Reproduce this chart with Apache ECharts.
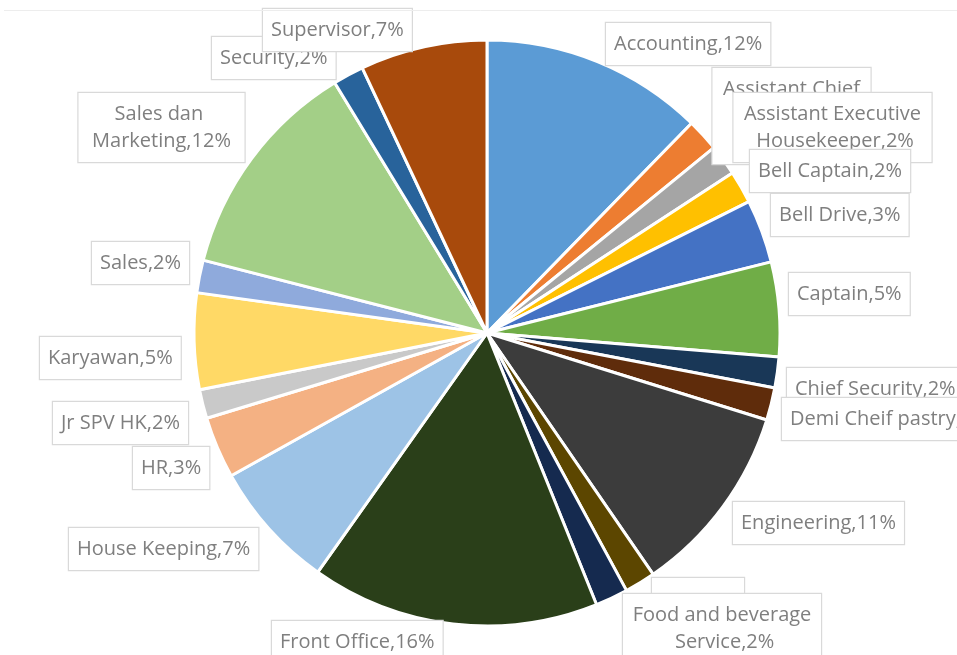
<!DOCTYPE html>
<html>
<head>
<meta charset="utf-8">
<script src="https://cdn.jsdelivr.net/npm/echarts@6/dist/echarts.min.js"></script>
<style>
html,body{margin:0;padding:0;background:#fff;}
#chart{width:957px;height:655px;}
</style>
</head>
<body>
<div id="chart"></div>
<script>
// ---- data ----
var categories = [
  'Accounting', 'Assistant Chief Accounting', 'Assistant Executive Housekeeper', 'Bell Captain',
  'Bell Drive', 'Captain', 'Chief Security', 'Demi Cheif pastry', 'Engineering',
  'Food and beverage', 'Food and beverage Service', 'Front Office', 'House Keeping', 'HR',
  'Jr SPV HK', 'Karyawan', 'Sales', 'Sales dan Marketing', 'Security', 'Supervisor'
];
var values = [12.3, 1.8, 1.7, 1.8, 3.5, 5.2, 1.7, 1.8, 10.6, 1.7, 1.8, 15.9, 7.1, 3.4, 1.6, 5.3, 1.8, 12.3, 1.7, 7.0];
var percentLabels = [12, 2, 2, 2, 3, 5, 2, 2, 11, 2, 2, 16, 7, 3, 2, 5, 2, 12, 2, 7];

// ---- styles / layout (not data) ----
var colors = ['#5B9BD5', '#ED7D31', '#A5A5A5', '#FFC000', '#4472C4', '#70AD47', '#193757', '#5F2C0B',
  '#3C3C3C', '#5C4600', '#152A4F', '#2A3F19', '#9DC3E6', '#F4B183', '#C9C9C9', '#FFD966',
  '#8FAADC', '#A3CF87', '#28639B', '#A84A0C'];
// label box anchor: [x, top, align, wrapWidth, topPadding]
var labelPos = [
  [606, 23, 'left', 0, 8],
  [791.5, 68, 'center', 142, 8],
  [832.5, 93, 'center', 182, 8],
  [750, 150, 'left', 0, 8],
  [771, 194, 'left', 0, 8],
  [789, 273, 'left', 0, 8],
  [787, 368, 'left', 0, 8],
  [782, 398, 'left', 0, 8],
  [733, 502, 'left', 0, 8],
  [698, 578, 'center', 76, 14],
  [722, 594, 'center', 182, 8],
  [272, 621, 'left', 0, 8],
  [69, 528, 'left', 0, 8],
  [133, 447, 'left', 0, 8],
  [53, 402, 'left', 0, 8],
  [40, 337, 'left', 0, 8],
  [92, 242, 'left', 0, 8],
  [161.5, 93, 'center', 150, 8],
  [212, 37, 'left', 0, 8],
  [263, 9, 'left', 0, 8]
];

var data = categories.map(function (c, i) {
  var item = {
    name: c,
    value: values[i],
    itemStyle: { color: colors[i] },
    label: { padding: [labelPos[i][4], 8, 7, 8] }
  };
  if (labelPos[i][3]) {
    item.label.width = labelPos[i][3];
    item.label.overflow = 'break';
  }
  return item;
});

var chart = echarts.init(document.getElementById('chart'), null, { renderer: 'canvas' });
chart.setOption({
  backgroundColor: '#ffffff',
  animation: false,
  graphic: [{
    type: 'line',
    shape: { x1: 4, y1: 10.5, x2: 957, y2: 10.5 },
    style: { stroke: '#ededed', lineWidth: 1 },
    z: 100
  }],
  series: [{
    type: 'pie',
    center: [487, 333],
    radius: 293,
    startAngle: 90,
    clockwise: true,
    avoidLabelOverlap: false,
    data: data,
    itemStyle: { borderColor: '#ffffff', borderWidth: 3 },
    labelLine: { show: false },
    label: {
      show: true,
      position: 'outside',
      formatter: function (p) { return p.name + ',' + percentLabels[p.dataIndex] + '%'; },
      fontFamily: '"Open Sans", "Noto Sans", sans-serif',
      fontSize: 20,
      lineHeight: 27,
      color: '#7F7F7F',
      backgroundColor: '#ffffff',
      borderColor: '#D9D9D9',
      borderWidth: 1.2,
      align: 'center'
    },
    labelLayout: function (params) {
      var p = labelPos[params.dataIndex];
      return { x: p[0], y: p[1], align: p[2], verticalAlign: 'top' };
    }
  }]
});
</script>
</body>
</html>
